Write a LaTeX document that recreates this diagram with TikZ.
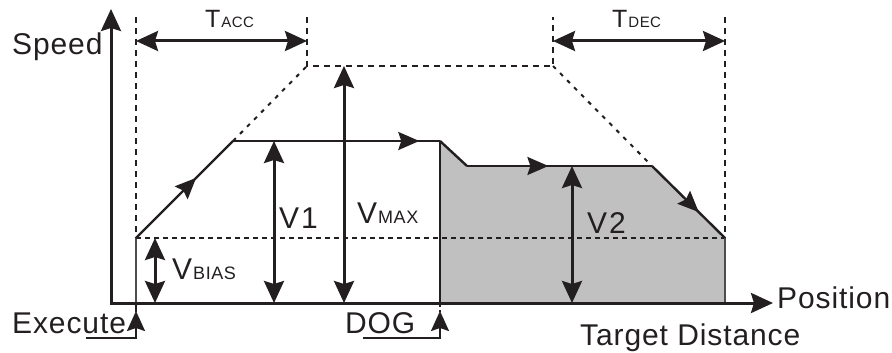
\documentclass[tikz,border=0pt]{standalone}
\usepackage{fontspec}
\setmainfont[LetterSpace=3]{Liberation Sans}
\usetikzlibrary{arrows.meta,decorations.markings}
\definecolor{ink}{HTML}{231F20}
\definecolor{fillgray}{HTML}{C0C0C0}
\newcommand{\bigtxt}{\fontsize{30}{32}\selectfont}
\newcommand{\subtxt}{\fontsize{18}{19}\selectfont}
\newcommand{\ttxt}{\fontsize{25}{27}\selectfont}
\newcommand{\tsub}{\fontsize{15}{16}\selectfont}
\tikzset{
  tip/.tip={Stealth[length=22pt,width=20pt,inset=3pt]},
  axisline/.style={draw=ink,line width=3pt},
  dimarrow/.style={draw=ink,line width=3pt,tip-tip},
  profile/.style={draw=ink,line width=2.4pt,line join=miter},
  guide/.style={draw=ink,line width=2.2pt,dash pattern=on 6pt off 5pt},
  biasline/.style={draw=ink,line width=1.8pt,dash pattern=on 5pt off 4pt},
  slopeline/.style={draw=ink,line width=2pt,dash pattern=on 4pt off 6pt},
  midarrow/.style={postaction={decorate},decoration={markings,
     mark=at position #1 with {\arrow{Stealth[length=21pt,width=18pt,inset=3pt]}}}},
  lbl/.style={inner sep=0pt,anchor=base west,text=ink},
}
\begin{document}
\begin{tikzpicture}[x=1pt,y=-1pt]
\useasboundingbox (0,0) rectangle (892,353);
% key coordinates
\coordinate (O) at (110,303);
\coordinate (ytop) at (111,9);
\coordinate (xend) at (773,303);
\coordinate (ex0) at (136,303);
\coordinate (bias0) at (136,238);
\coordinate (acc1) at (233,141);
\coordinate (dog1) at (440,141);
\coordinate (dog0) at (440,303);
\coordinate (v2a) at (467,166);
\coordinate (v2b) at (652,166);
\coordinate (bias1) at (725,238);
\coordinate (end0) at (725,303);
\coordinate (max0) at (307,66);
\coordinate (max1) at (553,66);
\coordinate (ext) at (136,17);
\coordinate (mt0) at (307,17);
\coordinate (mt1) at (553,17);
\coordinate (ent) at (725,17);
% gray area
\fill[fillgray] (dog1) -- (v2a) -- (v2b) -- (bias1) -- (end0) -- (dog0) -- cycle;
% guide lines
\draw[guide] (ext) -- (bias0);
\draw[guide] (mt0) -- (max0) -- (max1) -- (mt1);
\draw[guide] (ent) -- (bias1);
\draw[biasline] (bias0) -- (bias1);
\draw[slopeline] (acc1) -- (max0);
\draw[slopeline] (max1) -- (v2b);
% profile
\draw[draw=ink!80,line width=1.8pt] (ex0) -- (bias0);
\draw[profile,midarrow=0.62] (bias0) -- (acc1);
\draw[profile,midarrow=0.9] (acc1) -- (dog1);
\draw[profile] (dog1) -- (dog0);
\draw[profile] (dog1) -- (v2a);
\draw[profile,midarrow=0.44] (v2a) -- (v2b);
\draw[profile,midarrow=0.64] (v2b) -- (bias1);
\draw[draw=ink!80,line width=1.8pt] (bias1) -- (end0);
% axes
\draw[axisline,-tip] (O) -- (xend);
\draw[axisline,-tip] (111,304.5) -- (ytop);
% dimension arrows
\coordinate (ta0) at (136,41); \coordinate (ta1) at (307,41);
\coordinate (td0) at (553,41); \coordinate (td1) at (725,41);
\coordinate (v1t) at (274,141); \coordinate (v1b) at (274,303);
\coordinate (vmt) at (344,66); \coordinate (vmb) at (344,303);
\coordinate (vbt) at (155,238); \coordinate (vbb) at (155,303);
\coordinate (v2t) at (572,166); \coordinate (v2bt) at (572,303);
\draw[dimarrow] (ta0) -- (ta1);
\draw[dimarrow] (td0) -- (td1);
\draw[dimarrow] (v1t) -- (v1b);
\draw[dimarrow] (vmt) -- (vmb);
\draw[dimarrow] (vbt) -- (vbb);
\draw[dimarrow] (v2t) -- (v2bt);
% trigger arrows
\coordinate (exs) at (86,338); \coordinate (exc) at (136,338); \coordinate (ext2) at (136,311);
\coordinate (dgs) at (363,338); \coordinate (dgc) at (440,338); \coordinate (dgt) at (440,311);
\draw[draw=ink,line width=2.2pt,line join=miter,-{Stealth[length=20pt,width=18pt,inset=3pt]}] (exs) -- (exc) -- (ext2);
\draw[draw=ink,line width=2.2pt,line join=miter,-{Stealth[length=20pt,width=18pt,inset=3pt]}] (dgs) -- (dgc) -- (dgt);
\draw[draw=ink,line width=1.4pt] (ex0) -- (136,312);
\draw[draw=ink,line width=1.4pt,dash pattern=on 4pt off 3pt] (dog0) -- (440,312);
% labels
\node[lbl] (speed) at (12,55) {\bigtxt Speed};
\node[lbl] (exec) at (12,333) {\bigtxt Execute};
\node[lbl] (dog) at (345,333) {\bigtxt DOG};
\node[lbl] (pos) at (777,308) {\bigtxt Position};
\node[lbl] (tgt) at (580,345) {\bigtxt Target Distance};
\node[lbl] (v1) at (279,228) {\bigtxt V\kern2pt1};
\node[lbl] (vmax) at (357,223) {\bigtxt V\subtxt\kern1pt MAX};
\node[lbl] (vbias) at (172,279) {\bigtxt V\subtxt\kern1pt BIAS};
\node[lbl] (v2) at (587,233) {\bigtxt V\kern2pt2};
\node[lbl] (tacc) at (205,28) {\ttxt T\tsub\kern1pt ACC};
\node[lbl] (tdec) at (612,28) {\ttxt T\tsub\kern1pt DEC};
\end{tikzpicture}
\end{document}
